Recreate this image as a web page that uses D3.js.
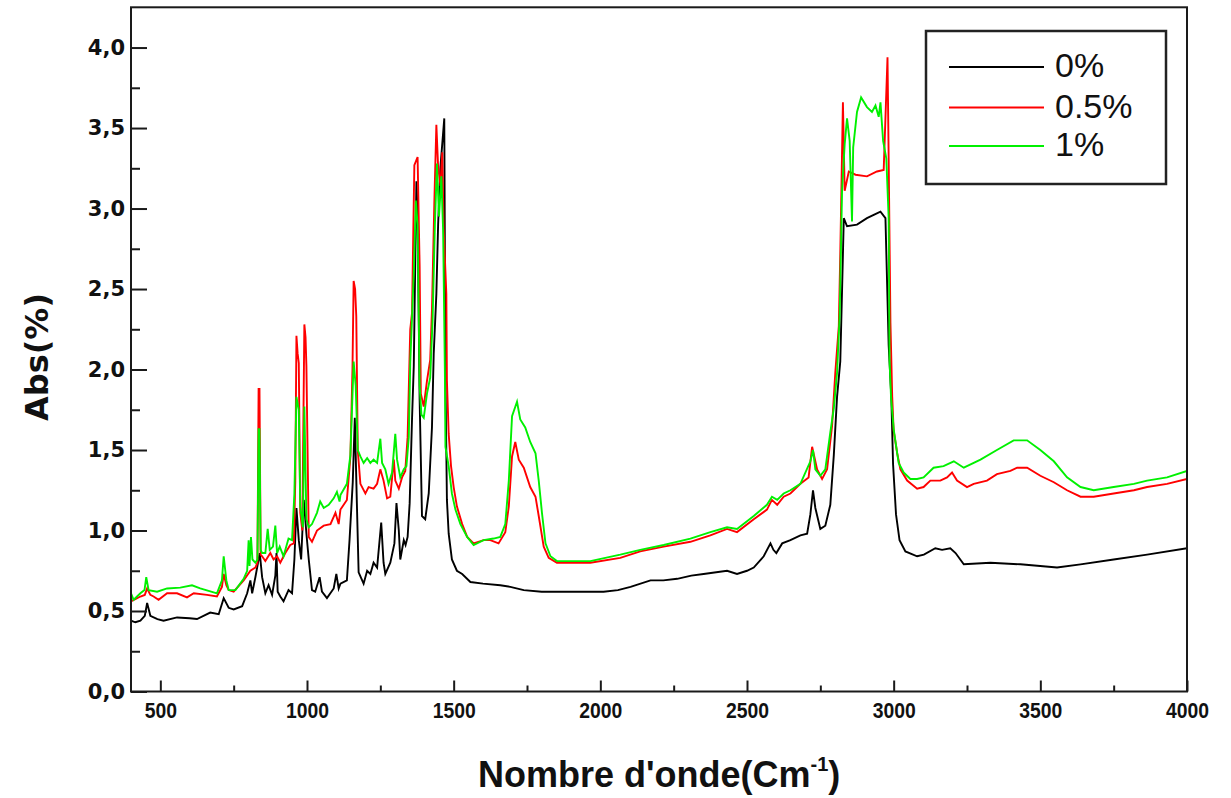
<!DOCTYPE html>
<html><head><meta charset="utf-8">
<script src="https://cdn.jsdelivr.net/npm/d3@7"></script>
<style>body{margin:0;background:#fff}svg{display:block}</style>
</head><body><svg id="c" width="1231" height="798"></svg>
<script>
// ---------------- DATA ----------------
const seriesNames = ["0%", "0.5%", "1%"];

// 0 %
const wn0 = [400,415,432,447,455,466,490,511,557,600,625,670,699,716,733,750,779,796,807,813,824,839,847,858,869,881,892,896,900,909,920,937,949,957,964,972,980,989,998,1006,1017,1028,1043,1051,1068,1091,1100,1108,1114,1136,1145,1156,1163,1170,1176,1193,1205,1216,1227,1239,1253,1261,1267,1284,1298,1305,1313,1318,1330,1336,1343,1350,1358,1364,1373,1377,1384,1392,1403,1415,1426,1432,1441,1447,1455,1468,1472,1477,1483,1494,1511,1529,1557,1600,1659,1693,1739,1800,1852,1950,2011,2060,2103,2171,2215,2262,2310,2352,2432,2466,2500,2523,2557,2580,2590,2600,2620,2648,2682,2705,2716,2725,2733,2750,2767,2784,2796,2807,2818,2824,2830,2841,2875,2909,2932,2955,2972,2983,2992,2998,3008,3020,3040,3080,3103,3142,3165,3193,3211,3239,3330,3432,3557,3637,3750,3864,4000];
const abs0 = [0.44,0.43,0.44,0.47,0.55,0.47,0.45,0.44,0.46,0.455,0.45,0.49,0.48,0.58,0.52,0.51,0.53,0.61,0.69,0.61,0.71,0.86,0.71,0.61,0.66,0.60,0.72,0.86,0.62,0.59,0.56,0.63,0.61,0.82,1.14,0.94,0.82,1.19,0.98,0.82,0.63,0.62,0.71,0.62,0.58,0.64,0.73,0.64,0.67,0.69,0.94,1.30,1.70,1.17,0.74,0.67,0.75,0.73,0.80,0.77,1.05,0.80,0.73,0.80,0.92,1.17,1.00,0.82,0.94,0.91,0.96,1.17,1.69,2.02,3.17,2.97,1.81,1.09,1.07,1.23,1.64,2.10,2.47,2.90,3.26,3.56,1.93,1.19,0.98,0.82,0.75,0.73,0.68,0.67,0.66,0.65,0.63,0.62,0.62,0.62,0.62,0.63,0.65,0.69,0.69,0.70,0.72,0.73,0.75,0.73,0.75,0.77,0.84,0.92,0.88,0.86,0.92,0.94,0.97,0.98,1.10,1.25,1.14,1.01,1.03,1.16,1.47,1.83,2.05,2.49,2.94,2.89,2.90,2.94,2.96,2.98,2.94,2.15,1.83,1.41,1.10,0.94,0.87,0.84,0.85,0.89,0.88,0.89,0.86,0.79,0.80,0.79,0.77,0.79,0.82,0.85,0.89];

// 0.5 %
const wn05 = [400,432,447,455,466,477,494,523,557,591,614,659,693,710,716,725,733,750,784,807,824,831,835,838,842,847,858,875,886,898,909,926,943,955,960,964,968,972,977,984,991,995,998,1006,1017,1034,1057,1080,1097,1108,1114,1136,1148,1155,1159,1164,1168,1173,1182,1199,1210,1227,1239,1250,1261,1273,1284,1296,1301,1313,1324,1335,1343,1352,1358,1366,1377,1384,1388,1398,1409,1420,1426,1434,1441,1447,1455,1461,1466,1475,1477,1483,1491,1500,1511,1529,1546,1568,1602,1625,1653,1676,1688,1699,1710,1722,1739,1761,1779,1790,1807,1824,1852,1966,2068,2136,2216,2307,2375,2432,2466,2523,2568,2585,2603,2625,2648,2682,2710,2722,2739,2756,2773,2790,2801,2813,2818,2827,2833,2847,2870,2909,2943,2966,2979,2983,2989,2995,3000,3012,3023,3046,3080,3102,3125,3159,3182,3199,3216,3250,3273,3318,3352,3398,3421,3455,3500,3546,3591,3637,3682,3750,3819,3864,3932,4000];
const abs05 = [0.56,0.59,0.60,0.64,0.60,0.59,0.57,0.61,0.61,0.585,0.61,0.60,0.59,0.65,0.73,0.66,0.63,0.62,0.69,0.75,0.77,0.80,1.88,1.88,0.85,0.84,0.81,0.86,0.82,0.84,0.80,0.86,0.91,0.92,1.30,2.21,2.10,2.04,1.11,1.00,2.28,2.20,2.02,0.96,0.93,1.00,1.03,1.04,1.11,1.04,1.13,1.19,1.46,2.00,2.55,2.50,2.33,1.50,1.29,1.23,1.27,1.26,1.29,1.38,1.31,1.20,1.21,1.44,1.31,1.26,1.33,1.37,1.58,2.25,2.35,3.27,3.32,2.64,1.85,1.77,1.93,2.06,2.37,3.03,3.52,3.26,3.14,3.35,2.87,2.47,1.93,1.60,1.40,1.27,1.15,1.04,0.96,0.92,0.94,0.94,0.92,0.99,1.15,1.46,1.55,1.44,1.39,1.27,1.21,1.09,0.90,0.83,0.80,0.80,0.83,0.87,0.90,0.93,0.97,1.01,0.99,1.07,1.13,1.19,1.16,1.21,1.23,1.29,1.33,1.52,1.38,1.32,1.38,1.65,1.98,2.27,2.72,3.66,3.11,3.23,3.21,3.20,3.23,3.24,3.94,3.30,2.29,1.83,1.62,1.48,1.38,1.31,1.26,1.27,1.31,1.31,1.33,1.36,1.31,1.27,1.29,1.31,1.35,1.37,1.39,1.39,1.34,1.30,1.25,1.21,1.21,1.23,1.25,1.27,1.29,1.32];

// 1 %
const wn1 = [400,409,432,446,452,460,489,523,568,608,636,693,710,716,725,733,756,784,796,801,804,809,814,824,831,835,838,842,847,858,866,873,884,892,898,907,920,937,949,957,964,972,977,986,991,998,1006,1017,1034,1045,1057,1074,1091,1102,1111,1114,1136,1148,1159,1166,1173,1182,1193,1205,1216,1227,1239,1250,1256,1267,1278,1290,1301,1307,1318,1330,1339,1347,1352,1364,1371,1377,1384,1390,1398,1409,1420,1428,1436,1443,1450,1458,1464,1470,1472,1483,1494,1506,1523,1546,1568,1602,1636,1659,1676,1688,1699,1716,1727,1744,1761,1779,1790,1801,1813,1830,1852,1966,2068,2136,2216,2307,2375,2432,2466,2523,2568,2585,2603,2625,2648,2682,2716,2725,2733,2750,2767,2784,2796,2807,2816,2824,2833,2841,2850,2858,2862,2875,2889,2909,2926,2938,2949,2955,2964,2975,2983,2986,2991,3000,3012,3017,3034,3057,3080,3102,3136,3170,3205,3239,3296,3352,3409,3455,3500,3546,3591,3637,3682,3750,3819,3864,3932,4000];
const abs1 = [0.61,0.57,0.61,0.63,0.71,0.63,0.62,0.64,0.645,0.66,0.64,0.61,0.69,0.84,0.69,0.63,0.63,0.70,0.75,0.94,0.78,0.96,0.82,0.80,0.82,1.63,1.63,0.88,0.86,0.86,1.01,0.88,0.90,1.03,0.86,0.90,0.84,0.95,0.94,1.23,1.83,1.75,1.15,1.02,1.77,1.07,1.02,1.04,1.11,1.18,1.14,1.16,1.20,1.24,1.18,1.22,1.29,1.47,2.05,1.90,1.50,1.46,1.42,1.45,1.42,1.44,1.42,1.57,1.42,1.38,1.29,1.36,1.60,1.44,1.33,1.38,1.40,1.58,2.04,2.60,3.05,2.90,1.90,1.72,1.70,1.85,1.95,2.30,2.90,3.28,2.95,3.20,2.87,2.00,1.52,1.40,1.23,1.13,1.04,0.96,0.91,0.94,0.95,0.96,1.04,1.31,1.71,1.80,1.69,1.64,1.55,1.48,1.31,1.11,0.92,0.84,0.81,0.81,0.85,0.88,0.91,0.95,0.99,1.02,1.01,1.09,1.16,1.21,1.19,1.23,1.25,1.29,1.43,1.50,1.38,1.34,1.38,1.61,1.76,1.98,2.34,3.11,3.40,3.56,3.42,2.92,3.38,3.60,3.69,3.63,3.60,3.64,3.57,3.66,3.42,3.31,2.94,2.05,1.83,1.63,1.48,1.42,1.36,1.32,1.32,1.33,1.39,1.40,1.43,1.39,1.44,1.50,1.56,1.56,1.50,1.43,1.33,1.27,1.25,1.27,1.29,1.31,1.33,1.37];

const xTickValues = [500,1000,1500,2000,2500,3000,3500,4000];
const xTickLabels = ["500","1000","1500","2000","2500","3000","3500","4000"];
const xMinorTicks = [750,1250,1750,2250,2750,3250,3750];
const yTickValues = [0,0.5,1.0,1.5,2.0,2.5,3.0,3.5,4.0];
const yTickLabels = ["0,0","0,5","1,0","1,5","2,0","2,5","3,0","3,5","4,0"];
const yMinorTicks = [0.25,0.75,1.25,1.75,2.25,2.75,3.25,3.75];
const xTitle = "Nombre d'onde(Cm";
const xTitleSup = "-1";
const yTitle = "Abs(%)";

// ---------------- CHART ----------------
const svg = d3.select("#c");
svg.append("rect").attr("width",1231).attr("height",798).attr("fill","#fff");

const L = 131, R = 1187, T = 7.3, B = 691.5;
const x = d3.scaleLinear().domain([400,4000]).range([L,R]);
const y = d3.scaleLinear().domain([0,4.25]).range([B,T]);

const series = [
  {name: seriesNames[0], wn: wn0, ab: abs0, color: "#000000"},
  {name: seriesNames[1], wn: wn05, ab: abs05, color: "#ff0000"},
  {name: seriesNames[2], wn: wn1, ab: abs1, color: "#00f000"}
];

svg.append("clipPath").attr("id","clip").append("rect")
  .attr("x",L).attr("y",T).attr("width",R-L).attr("height",B-T);

const line = d3.line().x(d=>x(d[0])).y(d=>y(d[1]));
const g = svg.append("g").attr("clip-path","url(#clip)");
series.forEach(s=>{
  g.append("path")
    .datum(s.wn.map((w,i)=>[w,s.ab[i]]))
    .attr("d",line)
    .attr("fill","none")
    .attr("stroke",s.color)
    .attr("stroke-width",1.9)
    .attr("stroke-linejoin","miter");
});

// axes
const axCol = "#1a1a1a";
const xAxis = svg.append("g").attr("transform",`translate(0,${B})`)
  .call(d3.axisBottom(x).tickValues(xTickValues).tickFormat((d,i)=>xTickLabels[i])
        .tickSizeInner(-11).tickSizeOuter(0).tickPadding(11));
const xMinor = svg.append("g").attr("transform",`translate(0,${B})`)
  .call(d3.axisBottom(x).tickValues(xMinorTicks).tickFormat("").tickSizeInner(-6).tickSizeOuter(0));
const yAxis = svg.append("g").attr("transform",`translate(${L},0)`)
  .call(d3.axisLeft(y).tickValues(yTickValues).tickFormat((d,i)=>yTickLabels[i])
        .tickSizeInner(-16).tickSizeOuter(0).tickPadding(6));
const yMinor = svg.append("g").attr("transform",`translate(${L},0)`)
  .call(d3.axisLeft(y).tickValues(yMinorTicks).tickFormat("").tickSizeInner(-9).tickSizeOuter(0));

[xAxis,xMinor,yAxis,yMinor].forEach(a=>{
  a.select(".domain").remove();
  a.selectAll(".tick line").attr("stroke",axCol).attr("stroke-width",2);
});
xAxis.selectAll(".tick text")
  .attr("font-family","'Liberation Sans', Arial, sans-serif")
  .attr("font-weight","bold").attr("font-size",22).attr("fill","#111")
  .attr("transform","scale(0.88,1)");
yAxis.selectAll(".tick text")
  .attr("font-family","'DejaVu Sans', sans-serif")
  .attr("font-weight","bold").attr("font-size",21).attr("fill","#111");

// frame
svg.append("rect").attr("x",L).attr("y",T).attr("width",R-L).attr("height",B-T)
  .attr("fill","none").attr("stroke",axCol).attr("stroke-width",2);

// titles
const xt = svg.append("text").attr("x",478).attr("y",787)
  .attr("font-family","'Liberation Sans', Arial, sans-serif")
  .attr("font-weight","bold").attr("font-size",36).attr("fill","#111");
xt.append("tspan").text(xTitle);
xt.append("tspan").attr("font-size",20).attr("dy",-16).text(xTitleSup);
xt.append("tspan").attr("dy",16).text(")");

svg.append("text").attr("transform","translate(48,357) rotate(-90)")
  .attr("text-anchor","middle")
  .attr("font-family","'DejaVu Sans', sans-serif")
  .attr("font-weight","bold").attr("font-size",32).attr("fill","#111")
  .text(yTitle);

// legend
const lg = svg.append("g");
lg.append("rect").attr("x",926).attr("y",31).attr("width",240).attr("height",153)
  .attr("fill","#fff").attr("stroke","#222").attr("stroke-width",2.5);
const legY = [67, 107.5, 146];
series.forEach((s,i)=>{
  lg.append("line").attr("x1",949).attr("x2",1044).attr("y1",legY[i]).attr("y2",legY[i])
    .attr("stroke",s.color).attr("stroke-width",2);
  lg.append("text").attr("x",1055).attr("y",legY[i]+10)
    .attr("font-family","'Liberation Sans', Arial, sans-serif")
    .attr("font-size",34).attr("fill","#111").text(s.name);
});
</script></body></html>
